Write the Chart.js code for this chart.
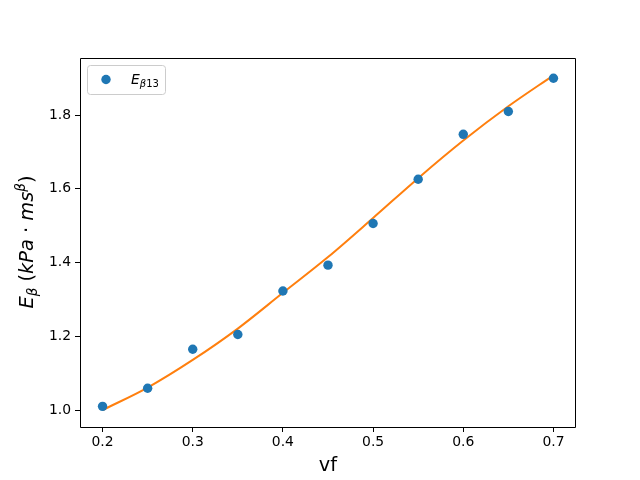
<!DOCTYPE html>
<html>
<head>
<meta charset="utf-8">
<script src="https://cdn.jsdelivr.net/npm/chart.js@4/dist/chart.umd.min.js"></script>
<style>
  html, body { margin: 0; padding: 0; background: #fff; }
  #wrap { width: 640px; height: 480px; }
</style>
</head>
<body>
<div id="wrap"><canvas id="chart" width="640" height="480"></canvas></div>
<script>
// measured points (vf, E_beta)
const vf = [0.2, 0.25, 0.3, 0.35, 0.4, 0.45, 0.5, 0.55, 0.6, 0.65, 0.7];
const eBeta = [1.010, 1.059, 1.165, 1.205, 1.323, 1.393, 1.506, 1.626, 1.748, 1.810, 1.900];

// fitted curve
const fitX = [0.2, 0.25, 0.3, 0.35, 0.4, 0.45, 0.5, 0.55, 0.6, 0.65, 0.7];
const fitY = [1.000, 1.061, 1.136, 1.221, 1.318, 1.415, 1.521, 1.629, 1.731, 1.824, 1.908];

const xTicks = [0.2, 0.3, 0.4, 0.5, 0.6, 0.7];
const yTicks = [1.0, 1.2, 1.4, 1.6, 1.8];

const FONT = "'DejaVu Sans', sans-serif";
const BLUE = '#1f77b4';
const ORANGE = '#ff7f0e';
const DOT = 4.7;

// draws a list of text runs, each with its own size / style / vertical shift
function drawRuns(ctx, runs, x, y) {
    let cx = x;
    runs.forEach(r => {
        ctx.font = `${r.italic ? 'italic ' : ''}${r.size}px ${FONT}`;
        ctx.fillText(r.text, cx, y + (r.dy || 0));
        cx += ctx.measureText(r.text).width;
    });
    return cx - x;
}
function runsWidth(ctx, runs) {
    let w = 0;
    runs.forEach(r => {
        ctx.font = `${r.italic ? 'italic ' : ''}${r.size}px ${FONT}`;
        w += ctx.measureText(r.text).width;
    });
    return w;
}

const extras = {
    id: 'extras',
    afterDraw(chart) {
        const ctx = chart.ctx;
        const a = chart.chartArea;
        const l = Math.round(a.left), r = Math.round(a.right);
        const t = Math.round(a.top), b = Math.round(a.bottom);
        ctx.save();
        // frame
        ctx.strokeStyle = '#000';
        ctx.lineWidth = 1;
        ctx.beginPath();
        ctx.moveTo(l + 0.5, t + 0.5);
        ctx.lineTo(r - 0.5, t + 0.5);
        ctx.lineTo(r - 0.5, b + 0.5);
        ctx.lineTo(l + 0.5, b + 0.5);
        ctx.closePath();
        ctx.stroke();

        ctx.fillStyle = '#000';
        ctx.textBaseline = 'alphabetic';

        // x title
        ctx.font = `19.4px ${FONT}`;
        ctx.textAlign = 'center';
        ctx.fillText('vf', (a.left + a.right) / 2, 471);

        // y title, rotated
        ctx.textAlign = 'left';
        const yRuns = [
            { text: 'E', size: 19.4, italic: true },
            { text: 'β', size: 13.6, italic: true, dy: 4 },
            { text: ' (', size: 19.4 },
            { text: 'kPa', size: 19.4, italic: true },
            { text: ' · ', size: 19.4 },
            { text: 'ms', size: 19.4, italic: true },
            { text: 'β', size: 13.6, italic: true, dy: -8 },
            { text: ')', size: 19.4 }
        ];
        const w = runsWidth(ctx, yRuns);
        ctx.translate(33, 242);
        ctx.rotate(-Math.PI / 2);
        drawRuns(ctx, yRuns, -w / 2, 0);
        ctx.setTransform(1, 0, 0, 1, 0, 0);

        // legend box
        const bx = 87.5, by = 65.5, bw = 78, bh = 29, rr = 3;
        ctx.beginPath();
        ctx.moveTo(bx + rr, by);
        ctx.arcTo(bx + bw, by, bx + bw, by + bh, rr);
        ctx.arcTo(bx + bw, by + bh, bx, by + bh, rr);
        ctx.arcTo(bx, by + bh, bx, by, rr);
        ctx.arcTo(bx, by, bx + bw, by, rr);
        ctx.closePath();
        ctx.fillStyle = 'rgba(255,255,255,0.8)';
        ctx.fill();
        ctx.strokeStyle = '#cccccc';
        ctx.lineWidth = 1;
        ctx.stroke();

        ctx.fillStyle = BLUE;
        ctx.beginPath();
        ctx.arc(106, 79.5, DOT, 0, Math.PI * 2);
        ctx.fill();

        ctx.fillStyle = '#000';
        drawRuns(ctx, [
            { text: 'E', size: 13.9, italic: true },
            { text: 'β', size: 10, italic: true, dy: 3 },
            { text: '13', size: 10, dy: 3 }
        ], 131, 84);
        ctx.restore();
    }
};

new Chart(document.getElementById('chart'), {
    type: 'scatter',
    data: {
        datasets: [
            {
                label: 'fit',
                type: 'line',
                data: fitX.map((x, i) => ({ x: x, y: fitY[i] })),
                borderColor: ORANGE,
                borderWidth: 2,
                pointRadius: 0,
                cubicInterpolationMode: 'monotone',
                fill: false,
                order: 2
            },
            {
                label: 'E_β13',
                data: vf.map((x, i) => ({ x: x, y: eBeta[i] })),
                backgroundColor: BLUE,
                borderWidth: 0,
                pointRadius: DOT,
                order: 1
            }
        ]
    },
    options: {
        responsive: false,
        animation: false,
        layout: { padding: { left: 0, right: 64, top: 58, bottom: 0 } },
        plugins: { legend: { display: false }, tooltip: { enabled: false } },
        scales: {
            x: {
                type: 'linear',
                min: 0.175,
                max: 0.725,
                afterFit: s => { s.height = 53; },
                afterBuildTicks: s => { s.ticks = xTicks.map(v => ({ value: v })); },
                grid: { display: true, drawOnChartArea: false, drawTicks: true, tickLength: 5, color: '#000' },
                border: { display: false },
                ticks: { color: '#000', font: { family: FONT, size: 13.9 }, padding: 2, maxRotation: 0, callback: v => v.toFixed(1) }
            },
            y: {
                type: 'linear',
                min: 0.954,
                max: 1.955,
                afterFit: s => { s.width = 80; },
                afterBuildTicks: s => { s.ticks = yTicks.map(v => ({ value: v })); },
                grid: { display: true, drawOnChartArea: false, drawTicks: true, tickLength: 5, color: '#000' },
                border: { display: false },
                ticks: { color: '#000', font: { family: FONT, size: 13.9 }, padding: 4, callback: v => v.toFixed(1) }
            }
        }
    },
    plugins: [extras]
});
</script>
</body>
</html>
